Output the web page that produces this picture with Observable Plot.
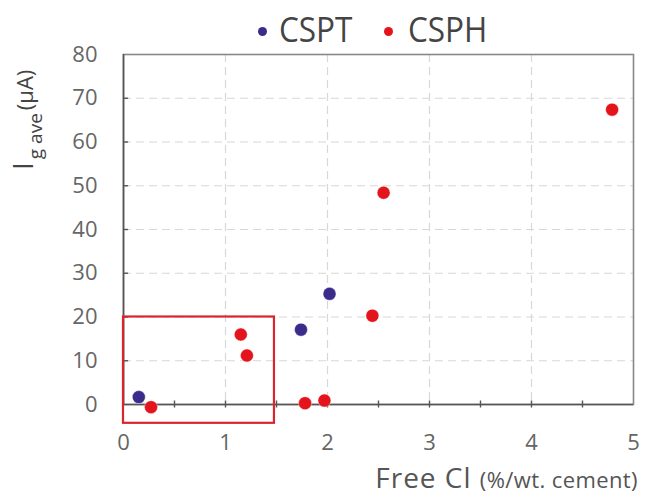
<!DOCTYPE html>
<html>
<head>
<meta charset="utf-8">
<script src="https://cdn.jsdelivr.net/npm/d3@7"></script>
<script src="https://cdn.jsdelivr.net/npm/@observablehq/plot@0.6"></script>
<style>
  body { margin: 0; background: #fff; font-family: "Open Sans", sans-serif; }
  #wrap { width: 646px; height: 497px; position: relative; }
  #legend { position: absolute; left: 0; top: 0; height: 50px; width: 646px; z-index: 2; }
  #legend .dot { position: absolute; width: 9px; height: 9px; border-radius: 50%; top: 27px; }
  #legend .lab { position: absolute; top: 9px; font-size: 35px; color: #444; transform: scaleX(0.9); transform-origin: left center; line-height: 40px; white-space: nowrap; }
</style>
</head>
<body>
<div id="wrap">
  <div id="legend"></div>
  <div id="chart"></div>
</div>
<script>
// ---- data ----
const series = ["CSPT", "CSPH"];
const seriesColors = ["#3b2c8c", "#e3141c"];
const csptX = [0.15, 1.74, 2.02];
const csptY = [1.7, 17.1, 25.3];
const csphX = [0.27, 1.15, 1.21, 1.78, 1.97, 2.44, 2.55, 4.79];
const csphY = [-0.6, 16.0, 11.2, 0.3, 0.9, 20.3, 48.4, 67.4];
const xTicks = [0, 1, 2, 3, 4, 5];
const xMinorTicks = [0.5, 1, 1.5, 2, 2.5, 3, 3.5, 4, 4.5];
const yTicks = [0, 10, 20, 30, 40, 50, 60, 70, 80];
const xGrid = [1, 2, 3, 4];
const yGrid = [10, 20, 30, 40, 50, 60, 70];
const yInnerTicks = [10, 20, 30, 40, 50, 60, 70];
const highlightBox = [{x1: 0, x2: 1.48, y1: -4.3, y2: 20}];

const points = [
  ...csptX.map((x, i) => ({x, y: csptY[i], s: "CSPT"})),
  ...csphX.map((x, i) => ({x, y: csphY[i], s: "CSPH"}))
];

// ---- legend (HTML) ----
const legend = document.getElementById("legend");
const legendPos = [{dot: 258, lab: 279}, {dot: 384, lab: 408}];
series.forEach((s, i) => {
  const d = document.createElement("div");
  d.className = "dot";
  d.style.left = legendPos[i].dot + "px";
  d.style.background = seriesColors[i];
  legend.appendChild(d);
  const t = document.createElement("div");
  t.className = "lab";
  t.style.left = legendPos[i].lab + "px";
  t.textContent = s;
  legend.appendChild(t);
});

const plot = Plot.plot({
  width: 646,
  height: 497,
  marginLeft: 123,
  marginRight: 13,
  marginTop: 54,
  marginBottom: 93,
  style: {fontFamily: "Open Sans, sans-serif", background: "#fff"},
  x: {domain: [0, 5]},
  y: {domain: [0, 80]},
  color: {domain: series, range: seriesColors},
  marks: [
    Plot.ruleX(xGrid, {stroke: "#d8d8d8", strokeDasharray: "8,5", strokeWidth: 1.2}),
    Plot.ruleY(yGrid, {stroke: "#d8d8d8", strokeDasharray: "8,5", strokeWidth: 1.2}),
    Plot.frame({stroke: "#888", strokeWidth: 1.6}),
    Plot.ruleY([0], {stroke: "#555", strokeWidth: 1.6}),
    Plot.ruleX([0], {stroke: "#555", strokeWidth: 1.6}),
    Plot.ruleX(xMinorTicks, {y1: -0.8, y2: 0.8, stroke: "#555", strokeWidth: 1.4}),
    Plot.ruleY(yInnerTicks, {x1: 0, x2: 0.05, stroke: "#555", strokeWidth: 1.4}),
    Plot.axisX(xTicks, {tickSize: 0, tickPadding: 30, fontSize: 22, fill: "#666", label: null}),
    Plot.axisY(yTicks, {tickSize: 0, tickPadding: 26, fontSize: 22, fill: "#666", label: null}),
    Plot.rect(highlightBox, {x1: "x1", x2: "x2", y1: "y1", y2: "y2", fill: "none", stroke: "#d9262e", strokeWidth: 2.2}),
    Plot.dot(points, {x: "x", y: "y", fill: "s", r: 6.5, stroke: "white", strokeOpacity: 0.5, strokeWidth: 0.8})
  ]
});
document.getElementById("chart").appendChild(plot);

// ---- axis titles (with mixed font sizes) ----
const svg = d3.select(plot);
const xl = svg.append("text")
  .attr("x", 638).attr("y", 488)
  .attr("text-anchor", "end")
  .attr("fill", "#555")
  .style("font-family", "Open Sans, sans-serif");
xl.append("tspan").attr("font-size", 28).attr("letter-spacing", 1).text("Free Cl ");
xl.append("tspan").attr("font-size", 22).attr("letter-spacing", 0.4).text("(%/wt. cement)");

const yl = svg.append("text")
  .attr("transform", "translate(33,170) rotate(-90)")
  .attr("text-anchor", "start")
  .attr("fill", "#444")
  .style("font-family", "Open Sans, sans-serif");
yl.append("tspan").attr("font-size", 28).text("I");
yl.append("tspan").attr("font-size", 19).attr("dx", 3).attr("dy", 9).text("g ave");
yl.append("tspan").attr("font-size", 22).attr("dx", 3).attr("dy", -9).text("(μA)");
</script>
</body>
</html>
